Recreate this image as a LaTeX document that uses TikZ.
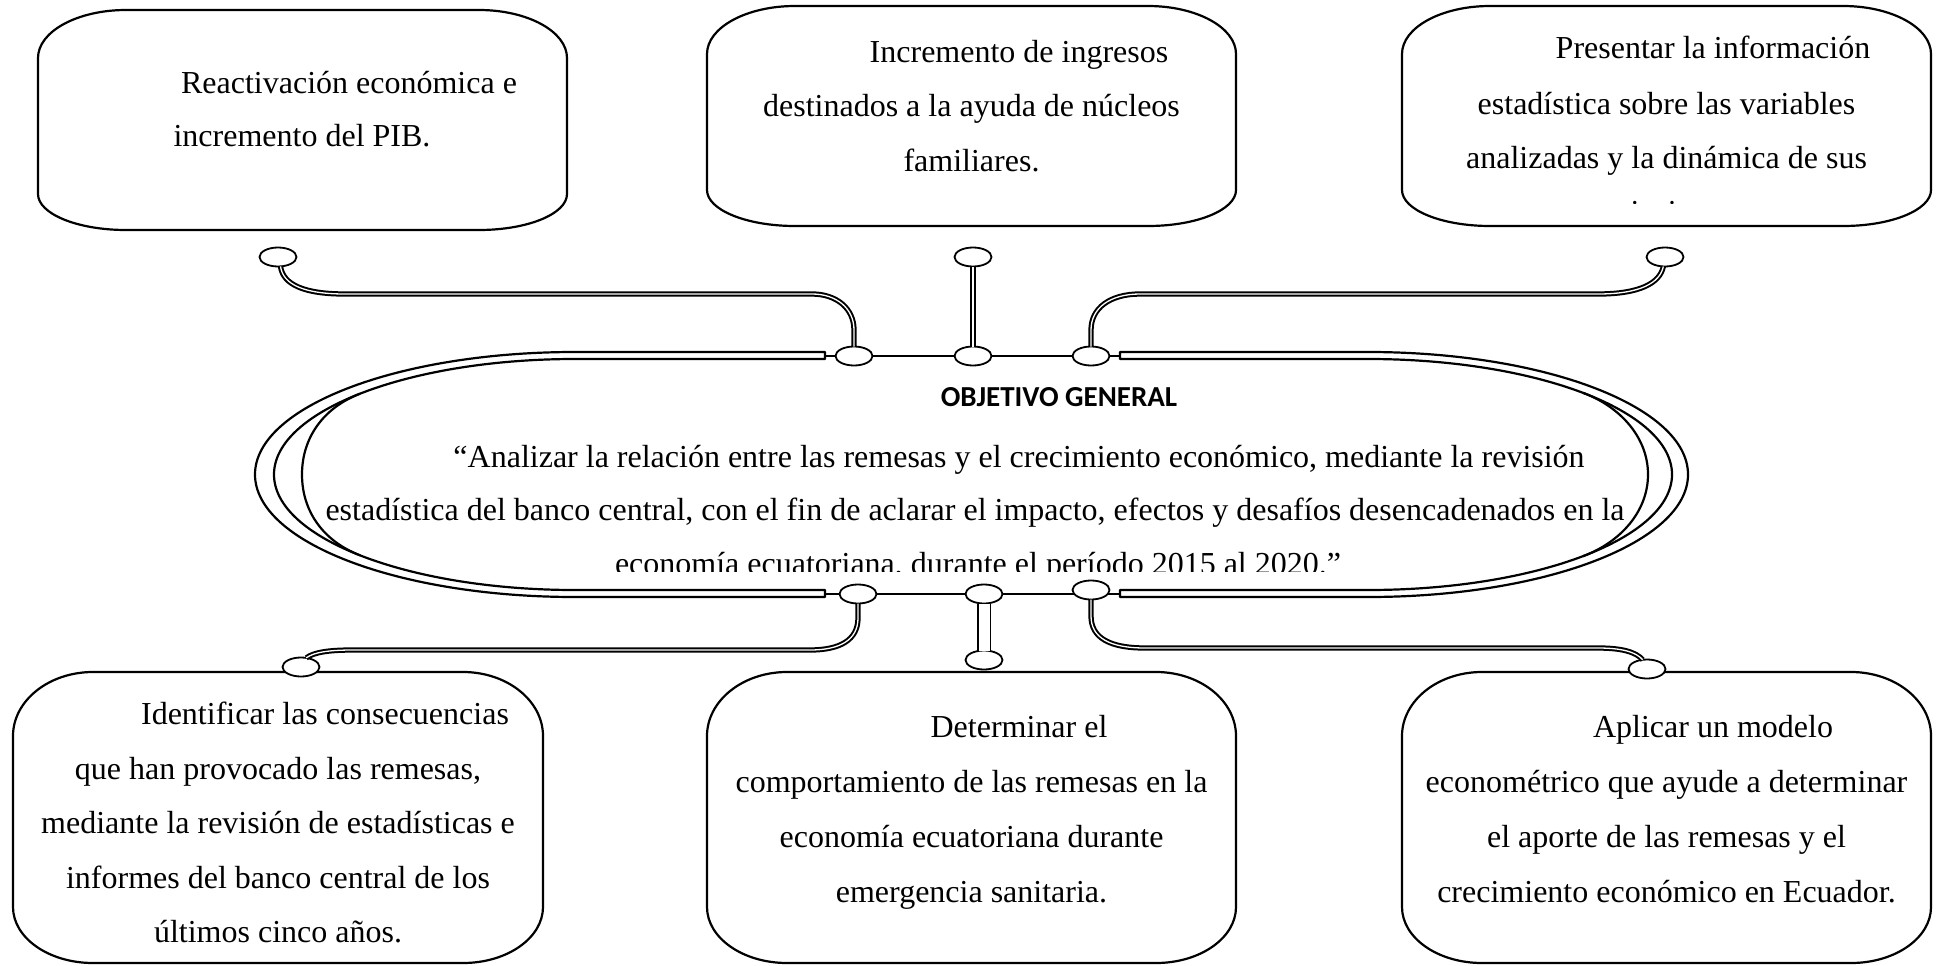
\documentclass[tikz,border=0pt]{standalone}
\usepackage{fontspec}
\setmainfont{Liberation Serif}
\newfontfamily\titlefont{Carlito}
\usetikzlibrary{shapes.geometric}
\newcommand\ebox[7]{%
  \draw[boxline] (#1+#5,#2) -- (#3-#5,#2)
    arc[start angle=270,end angle=360,x radius=#5,y radius=#6]
    -- (#3,#4-#7)
    arc[start angle=0,end angle=90,x radius=#5,y radius=#7]
    -- (#1+#5,#4)
    arc[start angle=90,end angle=180,x radius=#5,y radius=#7]
    -- (#1,#2+#6)
    arc[start angle=180,end angle=270,x radius=#5,y radius=#6] -- cycle;}
\tikzset{
  boxline/.style={draw=black, line width=2.2pt},
  scrollline/.style={draw=black, line width=2.2pt, line join=round},
  midline/.style={draw=black, line width=2pt},
  knob/.style={ellipse, draw=black, fill=white, line width=1.8pt, minimum width=37pt, minimum height=19pt, inner sep=0pt, outer sep=0pt},
  dbl/.style={draw=black, double=white, double distance=1.3pt, line width=2pt},
  widedbl/.style={draw=black, double=white, double distance=11pt, line width=1.8pt},
  txt/.style={font=\fontsize{32}{54}\selectfont, inner sep=0pt, anchor=base},
  ttl/.style={font={\titlefont\bfseries\fontsize{29}{34}\selectfont}, inner sep=0pt, anchor=base}
}
\begin{document}
\begin{tikzpicture}[x=1pt, y=-1pt]
\useasboundingbox[fill=white] (0,0) rectangle (1938,966);

% boxes
\ebox{38}{10}{567}{230}{88}{48}{36}
\ebox{707}{6}{1236}{226}{88}{48}{36}
\ebox{1402}{6}{1931}{226}{88}{48}{36}
\ebox{13}{672}{543}{963}{80}{64}{56}
\ebox{707}{672}{1236}{963}{80}{64}{56}
\ebox{1402}{672}{1931}{963}{80}{64}{56}

% central scroll shape
\draw[scrollline] (825,352) -- (575,352)
  arc[start angle=270, end angle=90, x radius=320, y radius=122.5]
  -- (825,597) -- (825,590) -- (575,590)
  arc[start angle=90, end angle=270, x radius=301, y radius=115.5]
  -- (825,359) -- cycle;
\draw[scrollline] (1120,352) -- (1368,352)
  arc[start angle=-90, end angle=90, x radius=320, y radius=122.5]
  -- (1120,597) -- (1120,590) -- (1368,590)
  arc[start angle=90, end angle=-90, x radius=304, y radius=115.5]
  -- (1120,359) -- cycle;
\draw[scrollline] (360,393.7) .. controls (323,408) and (302,438) .. (302,474.5)
  .. controls (302,511) and (323,541) .. (360,555.3);
\draw[scrollline] (1583,392.8) .. controls (1621,407) and (1648,438) .. (1648,474.5)
  .. controls (1648,511) and (1621,542) .. (1583,556.2);

\draw[midline] (825,355.5) -- (1120,355.5);
\draw[midline] (825,593.5) -- (1120,593.5);

% knobs
\node[knob] (E1) at (278,257) {};
\node[knob] (E2) at (973,257) {};
\node[knob] (E3) at (1665,257) {};
\node[knob] (J1) at (854,356) {};
\node[knob] (J2) at (973,356) {};
\node[knob] (J3) at (1091,356) {};
\node[knob] (J4) at (858,594) {};
\node[knob] (J5) at (984,594) {};
\node[knob] (J6) at (1091,590) {};
\node[knob] (E4) at (301,667) {};
\node[knob] (E5) at (984,660) {};
\node[knob] (E6) at (1647,669) {};

% connectors
\draw[dbl] (E1.-75) .. controls (283,285) and (305,294) .. (345,294) -- (812,294)
  .. controls (836,294) and (854,308) .. (854,330) -- (J1.north);
\draw[dbl] (J2.north) -- (E2.south);
\draw[dbl] (J3.north) -- (1091,330) .. controls (1091,308) and (1110,294) .. (1140,294)
  -- (1598,294) .. controls (1640,294) and (1660,283) .. (E3.-100);
\draw[dbl] (J4.south) -- (858,618) .. controls (858,640) and (840,650) .. (810,650)
  -- (353,650) .. controls (330,650) and (314,652) .. (E4.60);
\draw[widedbl] (J5.south) -- (E5.north);
\draw[dbl] (J6.south) -- (1091,616) .. controls (1091,638) and (1110,648) .. (1145,648)
  -- (1598,648) .. controls (1622,648) and (1636,652) .. (E6.115);

% texts top
\node[txt] (t1a) at (349,93) {Reactivación económica e};
\node[txt] (t1b) at (302,146) {incremento del PIB.};

\node[txt] (t2a) at (1019,63) {Incremento de ingresos};
\node[txt] (t2b) at (971.5,116) {destinados a la ayuda de núcleos};
\node[txt] (t2c) at (971.5,171) {familiares.};

\node[txt] (t3a) at (1713,59) {Presentar la información};
\node[txt] (t3b) at (1666.5,114) {estadística sobre las variables};
\node[txt] (t3c) at (1666.5,168) {analizadas y la dinámica de sus};
\begin{scope}
  \clip (1402,180) rectangle (1931,203.5);
  \node[txt] (t3d) at (1666.5,222) {variaciones.};
\end{scope}

% central texts
\node[ttl] (title) at (1059,406) {OBJETIVO GENERAL};
\node[txt] (c1) at (1019,467) {“Analizar la relación entre las remesas y el crecimiento económico, mediante la revisión};
\node[txt] (c2) at (975,520) {estadística del banco central, con el fin de aclarar el impacto, efectos y desafíos desencadenados en la};
\begin{scope}
  \clip (260,530) rectangle (1690,571);
  \node[txt] (c3) at (978,574) {economía ecuatoriana, durante el período 2015 al 2020.”};
\end{scope}

% texts bottom
\node[txt] (t4a) at (325,724) {Identificar las consecuencias};
\node[txt] (t4b) at (278,779) {que han provocado las remesas,};
\node[txt] (t4c) at (278,833) {mediante la revisión de estadísticas e};
\node[txt] (t4d) at (278,888) {informes del banco central de los};
\node[txt] (t4e) at (278,942) {últimos cinco años.};

\node[txt] (t5a) at (1019,737) {Determinar el};
\node[txt] (t5b) at (971.5,792) {comportamiento de las remesas en la};
\node[txt] (t5c) at (971.5,847) {economía ecuatoriana durante};
\node[txt] (t5d) at (971.5,902) {emergencia sanitaria.};

\node[txt] (t6a) at (1713,737) {Aplicar un modelo};
\node[txt] (t6b) at (1666.5,792) {econométrico que ayude a determinar};
\node[txt] (t6c) at (1666.5,847) {el aporte de las remesas y el};
\node[txt] (t6d) at (1666.5,902) {crecimiento económico en Ecuador.};
\end{tikzpicture}
\end{document}
